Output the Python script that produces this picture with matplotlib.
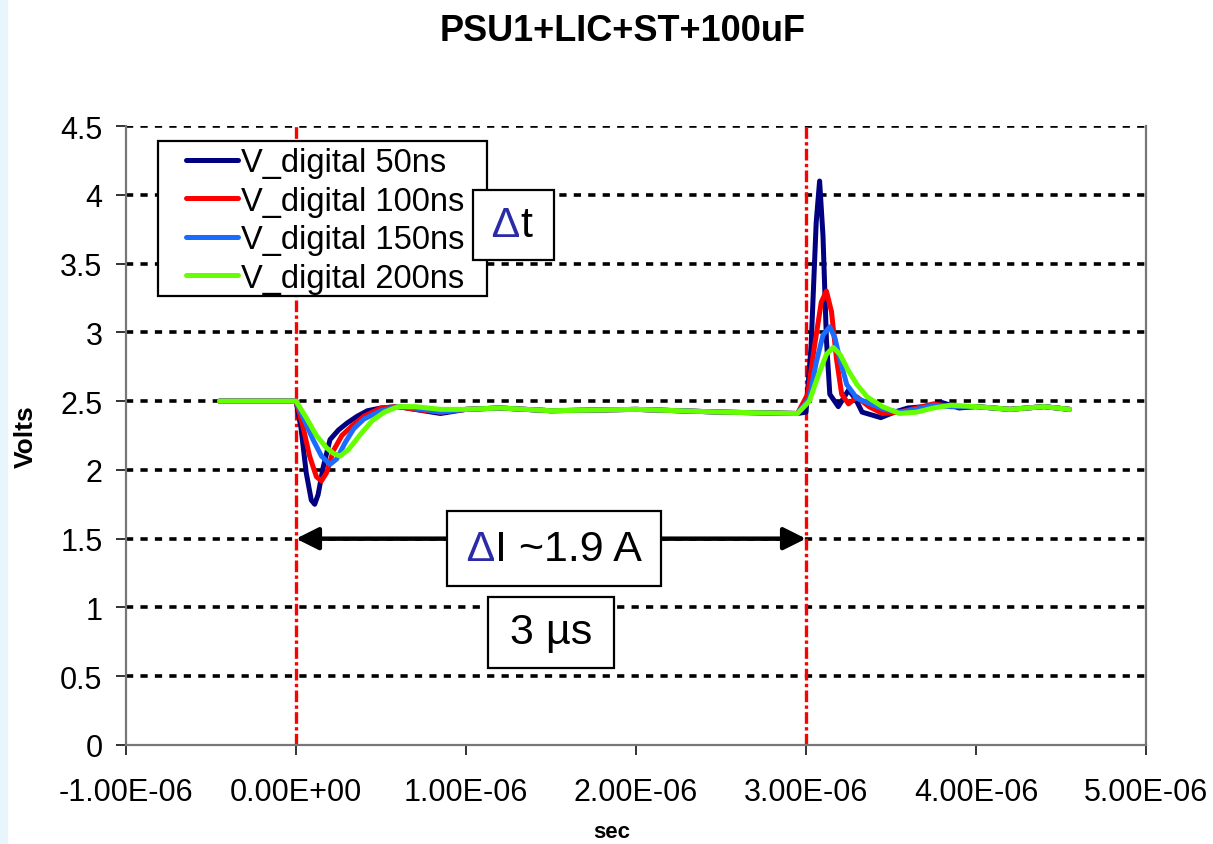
import numpy as np
import matplotlib.pyplot as plt
from matplotlib.patches import Rectangle
from matplotlib.ticker import FuncFormatter
from matplotlib.offsetbox import TextArea, HPacker, DrawingArea, AnnotationBbox

plt.rcParams["font.family"] = ["Liberation Sans", "DejaVu Sans"]

# =========================
# Data (time in microseconds, voltage in V)
# =========================
t_50 = [-0.45, 0.00, 0.03, 0.06, 0.09, 0.11, 0.13, 0.16, 0.20, 0.25, 0.30, 0.36, 0.42,
        0.50, 0.60, 0.70, 0.85, 1.00, 1.20, 1.50, 2.00, 2.50, 2.95, 3.00, 3.03, 3.06,
        3.08, 3.10, 3.12, 3.14, 3.19, 3.25, 3.29, 3.33, 3.44, 3.52, 3.60, 3.70, 3.80,
        3.90, 4.00, 4.20, 4.40, 4.55]
v_50 = [2.50, 2.50, 2.30, 1.98, 1.78, 1.75, 1.82, 2.02, 2.22, 2.29, 2.34, 2.39, 2.43,
        2.45, 2.46, 2.44, 2.41, 2.44, 2.45, 2.43, 2.44, 2.42, 2.41, 2.42, 2.90, 3.80,
        4.10, 3.70, 2.95, 2.55, 2.46, 2.58, 2.52, 2.42, 2.38, 2.42, 2.45, 2.46, 2.49,
        2.45, 2.46, 2.44, 2.46, 2.44]

t_100 = [-0.45, 0.00, 0.04, 0.08, 0.12, 0.15, 0.18, 0.22, 0.27, 0.33, 0.40, 0.50, 0.60,
         0.70, 0.85, 1.00, 1.20, 1.50, 2.00, 2.50, 2.95, 3.01, 3.05, 3.09, 3.12, 3.15,
         3.18, 3.21, 3.25, 3.30, 3.37, 3.45, 3.55, 3.65, 3.75, 3.85, 4.00, 4.20, 4.40,
         4.55]
v_100 = [2.50, 2.50, 2.32, 2.10, 1.95, 1.92, 1.98, 2.14, 2.25, 2.32, 2.39, 2.45, 2.46,
         2.44, 2.42, 2.44, 2.45, 2.43, 2.44, 2.42, 2.41, 2.55, 2.90, 3.22, 3.30, 3.15,
         2.80, 2.55, 2.48, 2.53, 2.46, 2.41, 2.42, 2.45, 2.48, 2.46, 2.46, 2.44, 2.46,
         2.44]

t_150 = [-0.45, 0.00, 0.05, 0.10, 0.15, 0.20, 0.24, 0.29, 0.34, 0.40, 0.50, 0.60, 0.70,
         0.85, 1.00, 1.20, 1.50, 2.00, 2.50, 2.95, 3.02, 3.06, 3.10, 3.14, 3.17, 3.20,
         3.24, 3.30, 3.38, 3.46, 3.55, 3.65, 3.75, 3.85, 4.00, 4.20, 4.40, 4.55]
v_150 = [2.50, 2.50, 2.36, 2.22, 2.10, 2.04, 2.08, 2.20, 2.30, 2.37, 2.43, 2.46, 2.45,
         2.42, 2.44, 2.45, 2.43, 2.44, 2.42, 2.41, 2.52, 2.78, 2.98, 3.04, 2.96, 2.80,
         2.62, 2.52, 2.48, 2.44, 2.42, 2.44, 2.47, 2.46, 2.46, 2.44, 2.46, 2.44]

t_200 = [-0.45, 0.00, 0.06, 0.12, 0.18, 0.22, 0.26, 0.31, 0.38, 0.45, 0.52, 0.60, 0.70,
         0.85, 1.00, 1.20, 1.50, 2.00, 2.50, 2.95, 3.02, 3.07, 3.12, 3.16, 3.20, 3.25,
         3.30, 3.36, 3.45, 3.55, 3.65, 3.75, 3.85, 4.00, 4.20, 4.40, 4.55]
v_200 = [2.50, 2.50, 2.38, 2.25, 2.16, 2.12, 2.10, 2.15, 2.26, 2.36, 2.42, 2.46, 2.46,
         2.44, 2.44, 2.45, 2.43, 2.44, 2.42, 2.41, 2.50, 2.68, 2.84, 2.89, 2.84, 2.72,
         2.62, 2.53, 2.46, 2.41, 2.42, 2.45, 2.47, 2.46, 2.44, 2.46, 2.44]

series = [
    (t_50, v_50, "V_digital 50ns", "#000080"),
    (t_100, v_100, "V_digital 100ns", "#ff0000"),
    (t_150, v_150, "V_digital 150ns", "#1a6cff"),
    (t_200, v_200, "V_digital 200ns", "#66ff00"),
]

x_ticks = [-1e-6, 0.0, 1e-6, 2e-6, 3e-6, 4e-6, 5e-6]
y_ticks = [0, 0.5, 1, 1.5, 2, 2.5, 3, 3.5, 4, 4.5]
markers_t = [0.0, 3e-6]
delta_color = "#2b2ba8"

# =========================
# Figure
# =========================
W, H = 1213, 845
fig = plt.figure(figsize=(W / 100, H / 100), dpi=100)
fig.patches.append(Rectangle((0, 0), 7 / W, 1, transform=fig.transFigure,
                             color="#e8f5fd", zorder=0))
ax = fig.add_axes([126 / W, 1 - 746 / H, 1020 / W, 619 / H])

for yv in y_ticks[1:]:
    ax.axhline(yv, color="black", linewidth=2.6, linestyle=(0, (2.0, 2.0)), zorder=1)

for tm in markers_t:
    ax.axvline(tm, color="#ff0000", linewidth=2.4, linestyle=(0, (3.5, 1.0, 1.0, 1.0)), zorder=2)

for t, v, lab, col in series:
    ax.plot(np.array(t) * 1e-6, v, color=col, linewidth=3.6, label=lab, zorder=3,
            solid_joinstyle="round", solid_capstyle="round")

ax.set_xlim(-1e-6, 5e-6)
ax.set_ylim(0, 4.5)
ax.set_xticks(x_ticks)
ax.set_yticks(y_ticks)
ax.xaxis.set_major_formatter(FuncFormatter(lambda x, p: f"{x:.2E}"))
ax.yaxis.set_major_formatter(FuncFormatter(lambda y, p: f"{y:g}"))
ax.tick_params(axis="both", labelsize=22, color="#333333", width=1.4, length=7)
ax.tick_params(axis="x", pad=16)
ax.tick_params(axis="y", pad=10)

for side in ["left", "bottom", "right"]:
    ax.spines[side].set_color("#777777")
    ax.spines[side].set_linewidth(1.6)
ax.spines["top"].set_visible(False)

# legend: frame drawn separately so that the side padding can be wider than the top one
ax.add_patch(Rectangle((32 / 1020, 449 / 619), 329 / 1020, 155 / 619,
                       transform=ax.transAxes, facecolor="white", edgecolor="black",
                       linewidth=1.6, zorder=4.9))
leg = ax.legend(loc="upper left", bbox_to_anchor=(60 / 1020, 598 / 619), borderaxespad=0,
                fontsize=23.5, handlelength=1.6, handletextpad=0.1, labelspacing=0.23,
                borderpad=0, frameon=False)
leg.set_zorder(5)

# double-headed arrow between the two events
ax.annotate("", xy=(markers_t[0], 1.5), xytext=(markers_t[1], 1.5),
            arrowprops=dict(arrowstyle="<|-|>", color="black", lw=3.2,
                            mutation_scale=34, shrinkA=0, shrinkB=0), zorder=4)


def label_box(parts, xy, height, z):
    areas = [DrawingArea(0, height)]
    areas += [TextArea(s, textprops=dict(fontsize=31, color=c)) for s, c in parts]
    pack = HPacker(children=areas, align="center", pad=7, sep=0)
    ab = AnnotationBbox(pack, xy, xycoords="data", frameon=True, pad=0,
                        bboxprops=dict(boxstyle="square,pad=0", facecolor="white",
                                       edgecolor="black", linewidth=1.6))
    ab.set_zorder(z)
    ax.add_artist(ab)


label_box([(" \u0394", delta_color), ("I ~1.9 A ", "black")], (1.52e-6, 1.425), 40, 6)
label_box([(" 3 \u00b5s ", "black")], (1.50e-6, 0.82), 37, 6)
label_box([(" \u0394", delta_color), ("t ", "black")], (1.28e-6, 3.78), 37, 7)

fig.text(0.513, 0.963, "PSU1+LIC+ST+100uF", fontsize=26, fontweight="bold",
         ha="center", va="center")
fig.text(26 / W, 1 - 437 / H, "Volts", fontsize=19, fontweight="bold",
         rotation=90, ha="center", va="center")
fig.text(612 / W, 1 - 833 / H, "sec", fontsize=16, fontweight="bold",
         ha="center", va="center")

fig.savefig("out.png", dpi=100)
